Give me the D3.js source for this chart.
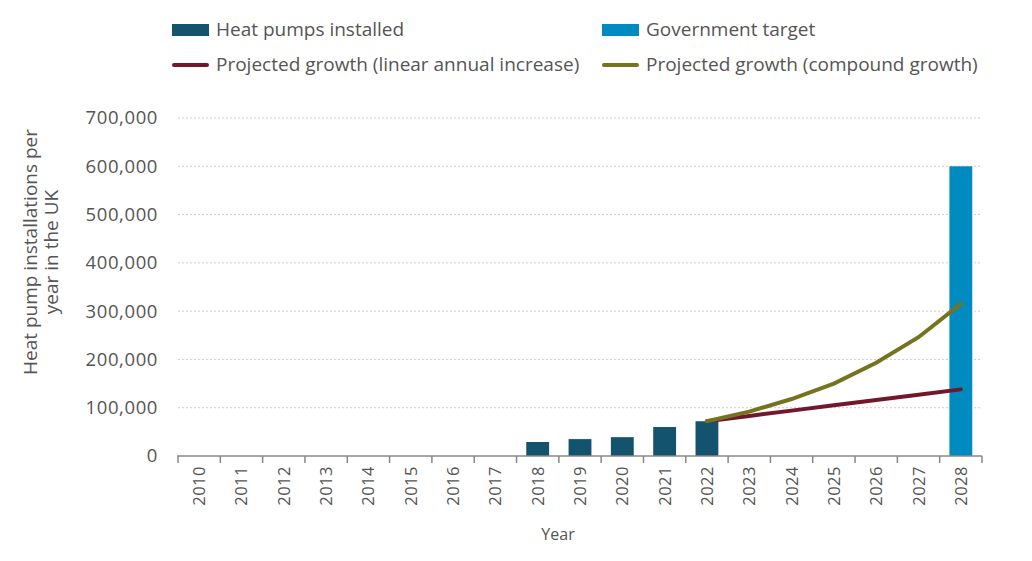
<!DOCTYPE html>
<html>
<head>
<meta charset="utf-8">
<script src="https://cdn.jsdelivr.net/npm/d3@7"></script>
<style>
  body { margin: 0; background: #fff; }
  svg text { font-family: "Open Sans", Lato, sans-serif; fill: #555; }
</style>
</head>
<body>
<div id="chart"></div>
<script>
var years = ["2010","2011","2012","2013","2014","2015","2016","2017","2018","2019","2020","2021","2022","2023","2024","2025","2026","2027","2028"];
var installedYears = ["2018","2019","2020","2021","2022"];
var installed = [29000, 35000, 39000, 60000, 72000];
var targetYears = ["2028"];
var target = [600000];
var projYears = ["2022","2023","2024","2025","2026","2027","2028"];
var linearGrowth = [72000, 83000, 94000, 105000, 116000, 127000, 138000];
var compoundGrowth = [72000, 92000, 118000, 150000, 193000, 246000, 315000];
var yTicks = [0, 100000, 200000, 300000, 400000, 500000, 600000, 700000];

var width = 1032, height = 561;
var margin = { top: 118, right: 50, bottom: 105, left: 178 };

var svg = d3.select('#chart').append('svg')
    .attr('width', width).attr('height', height);

var x = d3.scaleBand().domain(years)
    .range([margin.left, width - margin.right]).paddingInner(0.46).paddingOuter(0.23);
var y = d3.scaleLinear().domain([0, 700000]).range([height - margin.bottom, margin.top]);

// gridlines
svg.append('g').selectAll('line').data(yTicks.slice(1)).enter().append('line')
    .attr('x1', margin.left).attr('x2', width - margin.right)
    .attr('y1', function (d) { return y(d); }).attr('y2', function (d) { return y(d); })
    .attr('stroke', '#cfcfcf').attr('stroke-width', 1).attr('stroke-dasharray', '2,2');

// y axis labels
var yAxis = d3.axisLeft(y).tickValues(yTicks).tickSize(0).tickPadding(20)
    .tickFormat(d3.format(','));
var gy = svg.append('g').attr('transform', 'translate(' + margin.left + ',0)').call(yAxis);
gy.select('.domain').remove();
gy.selectAll('text').style('font-size', '18.5px').style('letter-spacing', '0.6px').style('fill', '#555');

// bars
svg.append('g').selectAll('rect').data(installed).enter().append('rect')
    .attr('x', function (d, i) { return x(installedYears[i]); })
    .attr('width', x.bandwidth())
    .attr('y', function (d) { return y(d); })
    .attr('height', function (d) { return y(0) - y(d); })
    .attr('fill', '#14536e');
svg.append('g').selectAll('rect').data(target).enter().append('rect')
    .attr('x', function (d, i) { return x(targetYears[i]); })
    .attr('width', x.bandwidth())
    .attr('y', function (d) { return y(d); })
    .attr('height', function (d) { return y(0) - y(d); })
    .attr('fill', '#008bc0');

// x axis
var band = x.step();
var gx = svg.append('g').attr('transform', 'translate(0,' + y(0) + ')');
gx.append('line').attr('x1', margin.left - 1).attr('x2', width - margin.right)
    .attr('stroke', '#888').attr('stroke-width', 1.5);
gx.selectAll('.tick').data(years.concat(['end'])).enter().append('line')
    .attr('x1', function (d, i) { return margin.left + i * band; })
    .attr('x2', function (d, i) { return margin.left + i * band; })
    .attr('y1', 0).attr('y2', 7).attr('stroke', '#888').attr('stroke-width', 1.5);
gx.selectAll('text').data(years).enter().append('text')
    .attr('transform', function (d) {
        return 'translate(' + (x(d) + x.bandwidth() / 2 + 6) + ',10) rotate(-90)';
    })
    .attr('text-anchor', 'end')
    .style('font-size', '16.5px')
    .style('letter-spacing', '0.5px')
    .text(function (d) { return d; });

// projection lines
var line = d3.line()
    .x(function (d, i) { return x(projYears[i]) + x.bandwidth() / 2; })
    .y(function (d) { return y(d); });
svg.append('path').datum(linearGrowth).attr('d', line)
    .attr('fill', 'none').attr('stroke', '#73182c').attr('stroke-width', 4).attr('stroke-linecap', 'round');
svg.append('path').datum(compoundGrowth).attr('d', line)
    .attr('fill', 'none').attr('stroke', '#76731f').attr('stroke-width', 4).attr('stroke-linecap', 'round');

// axis titles
svg.append('text').attr('x', 558).attr('y', 540).attr('text-anchor', 'middle')
    .style('font-size', '16px').text('Year');
var yt = svg.append('text').attr('transform', 'translate(37,252) rotate(-90)')
    .attr('text-anchor', 'middle').style('font-size', '19px');
yt.append('tspan').attr('x', 0).attr('dy', 0).text('Heat pump installations per');
yt.append('tspan').attr('x', 0).attr('dy', 21).text('year in the UK');

// legend
var legend = [
    { label: 'Heat pumps installed', color: '#14536e', type: 'rect', x: 172, y: 30 },
    { label: 'Government target', color: '#008bc0', type: 'rect', x: 602, y: 30 },
    { label: 'Projected growth (linear annual increase)', color: '#73182c', type: 'line', x: 172, y: 65 },
    { label: 'Projected growth (compound growth)', color: '#76731f', type: 'line', x: 602, y: 65 }
];
var lg = svg.append('g').selectAll('g').data(legend).enter().append('g')
    .attr('transform', function (d) { return 'translate(' + d.x + ',' + d.y + ')'; });
lg.filter(function (d) { return d.type === 'rect'; }).append('rect')
    .attr('x', 0).attr('y', -6).attr('width', 37).attr('height', 12)
    .attr('fill', function (d) { return d.color; });
lg.filter(function (d) { return d.type === 'line'; }).append('line')
    .attr('x1', 2).attr('x2', 35).attr('stroke-width', 4).attr('stroke-linecap', 'round')
    .attr('stroke', function (d) { return d.color; });
lg.append('text').attr('x', 44).attr('y', 6).style('font-size', '19px')
    .text(function (d) { return d.label; });
</script>
</body>
</html>
